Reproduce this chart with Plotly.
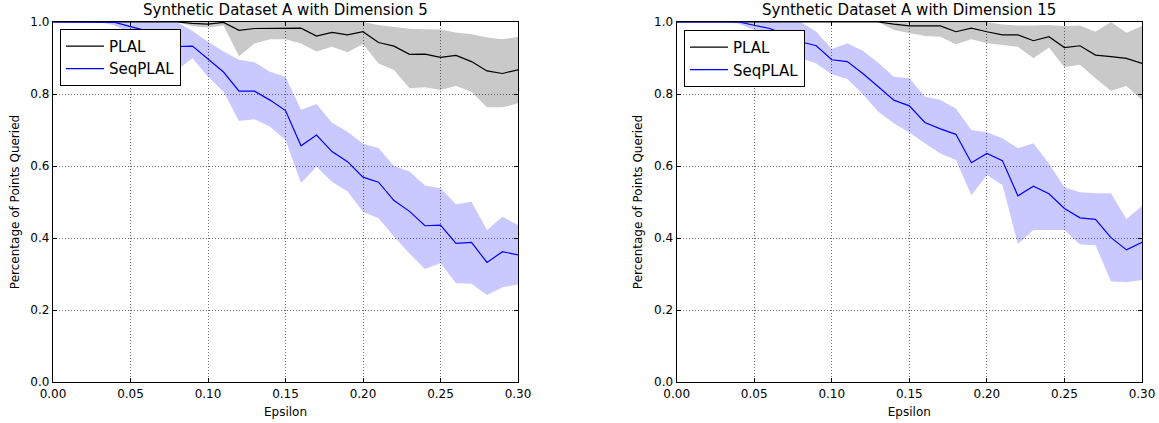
import plotly.graph_objects as go

epsilon = [round(0.01 * k, 2) for k in range(31)]

# Dimension 5
plal5_mean = [1.0, 1.0, 1.0, 1.0, 1.0, 1.0, 1.0, 1.0, 1.0, 0.996, 0.994, 0.999, 0.977, 0.982, 0.983, 0.983,
              0.983, 0.961, 0.971, 0.964, 0.973, 0.943, 0.933, 0.910, 0.911, 0.902, 0.907, 0.890, 0.864, 0.857, 0.867]
plal5_upper = [1.0] * 21 + [0.992, 0.987, 0.981, 0.980, 0.979, 0.971, 0.966, 0.957, 0.952, 0.959]
plal5_lower = [1.0, 1.0, 1.0, 1.0, 1.0, 1.0, 1.0, 1.0, 1.0, 0.988, 0.985, 0.99, 0.905, 0.94, 0.952, 0.952,
               0.94, 0.918, 0.931, 0.916, 0.939, 0.885, 0.867, 0.816, 0.819, 0.811, 0.822, 0.806, 0.763, 0.763, 0.774]
seq5_mean = [1.0, 1.0, 1.0, 1.0, 0.999, 0.987, 0.976, 0.952, 0.932, 0.933, 0.898, 0.861, 0.808, 0.808, 0.783, 0.754,
             0.656, 0.686, 0.640, 0.612, 0.569, 0.555, 0.504, 0.474, 0.434, 0.436, 0.385, 0.388, 0.332, 0.362, 0.353]
seq5_upper = [1.0] * 9 + [0.975, 0.945, 0.918, 0.895, 0.888, 0.862, 0.848, 0.756, 0.772, 0.72, 0.695, 0.662, 0.650,
                          0.600, 0.585, 0.546, 0.538, 0.494, 0.501, 0.422, 0.459, 0.436]
seq5_lower = [1.0, 1.0, 1.0, 1.0, 0.99, 0.97, 0.95, 0.91, 0.867, 0.899, 0.848, 0.806, 0.725, 0.73, 0.709, 0.672,
              0.553, 0.598, 0.556, 0.529, 0.473, 0.455, 0.404, 0.357, 0.314, 0.33, 0.274, 0.273, 0.242, 0.263, 0.271]

# Dimension 15
plal15_mean = [1.0] * 14 + [0.994, 0.989, 0.989, 0.989, 0.973, 0.983, 0.973, 0.964, 0.964, 0.948, 0.959, 0.929,
                            0.934, 0.908, 0.904, 0.899, 0.885]
plal15_upper = [1.0] * 21 + [0.993, 0.99, 0.99, 0.992, 0.989, 0.99, 0.973, 1.0, 0.970, 0.989]
plal15_lower = [1.0] * 14 + [0.978, 0.969, 0.961, 0.959, 0.938, 0.952, 0.941, 0.936, 0.931, 0.899, 0.929, 0.874,
                             0.881, 0.844, 0.809, 0.822, 0.783]
seq15_mean = [1.0, 1.0, 1.0, 1.0, 1.0, 0.991, 0.982, 0.965, 0.945, 0.934, 0.895, 0.890, 0.857, 0.820, 0.783, 0.767,
              0.721, 0.703, 0.688, 0.609, 0.635, 0.615, 0.517, 0.544, 0.523, 0.482, 0.456, 0.452, 0.401, 0.367, 0.388]
seq15_upper = [1.0] * 9 + [0.973, 0.925, 0.941, 0.92, 0.887, 0.848, 0.844, 0.793, 0.783, 0.760, 0.70, 0.694, 0.677,
                           0.649, 0.663, 0.607, 0.541, 0.527, 0.524, 0.524, 0.453, 0.489]
seq15_lower = [1.0, 1.0, 1.0, 1.0, 0.995, 0.978, 0.955, 0.93, 0.899, 0.885, 0.855, 0.842, 0.80, 0.751, 0.719, 0.693,
               0.663, 0.635, 0.617, 0.519, 0.575, 0.547, 0.383, 0.422, 0.422, 0.422, 0.382, 0.380, 0.279, 0.277, 0.283]

titles = ["Synthetic Dataset A with Dimension 5", "Synthetic Dataset A with Dimension 15"]
x_ticks = [0.0, 0.05, 0.10, 0.15, 0.20, 0.25, 0.30]
y_ticks = [0.0, 0.2, 0.4, 0.6, 0.8, 1.0]

FONT = "DejaVu Sans"
fig = go.Figure()

panels = [
    ("x", "y", "legend", plal5_mean, plal5_upper, plal5_lower, seq5_mean, seq5_upper, seq5_lower),
    ("x2", "y2", "legend2", plal15_mean, plal15_upper, plal15_lower, seq15_mean, seq15_upper, seq15_lower),
]

for xa, ya, lg, pm, pu, pl, sm, su, sl in panels:
    for up, lo, fc in [(pu, pl, "rgba(0,0,0,0.21)"), (su, sl, "rgba(0,0,255,0.21)")]:
        fig.add_trace(go.Scatter(x=epsilon, y=up, xaxis=xa, yaxis=ya, mode="lines",
                                 line=dict(width=0, color=fc), showlegend=False, hoverinfo="skip"))
        fig.add_trace(go.Scatter(x=epsilon, y=lo, xaxis=xa, yaxis=ya, mode="lines", fill="tonexty",
                                 fillcolor=fc, line=dict(width=0, color=fc), showlegend=False, hoverinfo="skip"))
    fig.add_trace(go.Scatter(x=epsilon, y=pm, xaxis=xa, yaxis=ya, mode="lines", name="PLAL",
                             line=dict(color="black", width=1.2), legend=lg, legendrank=1))
    fig.add_trace(go.Scatter(x=epsilon, y=sm, xaxis=xa, yaxis=ya, mode="lines", name="SeqPLAL",
                             line=dict(color="blue", width=1.2), legend=lg, legendrank=2))

axis_common = dict(showline=True, linecolor="black", linewidth=1.3, mirror="allticks",
                   ticks="inside", ticklen=4, tickcolor="black", tickwidth=1,
                   showgrid=True, gridcolor="rgba(0,0,0,0.55)", gridwidth=1, griddash="1px,2px",
                   zeroline=False, automargin=False,
                   tickfont=dict(family=FONT, size=12, color="black"))

d1 = [0.0, 0.427]
d2 = [0.5727, 1.0]
fig.update_layout(
    width=1159, height=423,
    margin=dict(l=53, r=17, t=22, b=41),
    paper_bgcolor="white", plot_bgcolor="white",
    font=dict(family=FONT, size=12, color="black"),
    xaxis=dict(domain=d1, range=[0, 0.3], tickvals=x_ticks, tickformat=".2f", anchor="y",
               title=dict(text="Epsilon", standoff=8, font=dict(family=FONT, size=12)), **axis_common),
    yaxis=dict(domain=[0, 1], range=[0, 1], tickvals=y_ticks, tickformat=".1f", anchor="x",
               title=dict(text="Percentage of Points Queried", standoff=8, font=dict(family=FONT, size=12)),
               **axis_common),
    xaxis2=dict(domain=d2, range=[0, 0.3], tickvals=x_ticks, tickformat=".2f", anchor="y2",
                title=dict(text="Epsilon", standoff=8, font=dict(family=FONT, size=12)), **axis_common),
    yaxis2=dict(domain=[0, 1], range=[0, 1], tickvals=y_ticks, tickformat=".1f", anchor="x2",
                title=dict(text="Percentage of Points Queried", standoff=8, font=dict(family=FONT, size=12)),
                **axis_common),
    legend=dict(x=0.0064, y=0.981, xanchor="left", yanchor="top", bgcolor="white",
                bordercolor="black", borderwidth=1, font=dict(family=FONT, size=15),
                itemwidth=38, traceorder="normal"),
    legend2=dict(x=0.5794, y=0.978, xanchor="left", yanchor="top", bgcolor="white",
                 bordercolor="black", borderwidth=1, font=dict(family=FONT, size=15),
                 itemwidth=38, traceorder="normal"),
    showlegend=True,
)

for dom, t in zip([d1, d2], titles):
    fig.add_annotation(text=t, xref="paper", yref="paper", x=(dom[0] + dom[1]) / 2, y=1.0,
                       xanchor="center", yanchor="bottom", yshift=1, showarrow=False,
                       font=dict(family=FONT, size=15, color="black"))

fig.write_html("out.html")
